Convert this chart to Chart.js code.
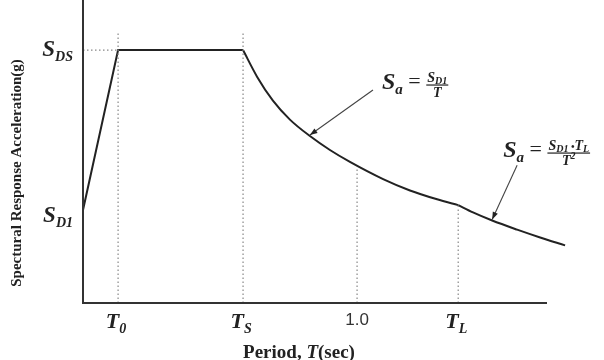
<!DOCTYPE html>
<html lang="en">
<head>
<meta charset="UTF-8">
<title>Design Response Spectrum</title>
<script src="https://cdn.jsdelivr.net/npm/chart.js"></script>
<style>
  html, body { margin: 0; padding: 0; background: #fff; }
  #wrap { width: 604px; height: 360px; }
</style>
</head>
<body>
<div id="wrap"><canvas id="spectrum" width="604" height="360"></canvas></div>
<script>
// values: period T (sec) and Sa as a fraction of S_DS
const rampT = [0, 0.128, 0.584];
const rampSa = [0.368, 1.0, 1.0];
const decayT = [0.584, 0.635, 0.693, 0.755, 0.828, 0.901, 0.974, 1.095, 1.193, 1.292, 1.369];
const decaySa = [1.0, 0.895, 0.800, 0.725, 0.660, 0.605, 0.558, 0.490, 0.445, 0.410, 0.387];
const longT = [1.369, 1.423, 1.493, 1.584, 1.668, 1.759];
const longSa = [0.387, 0.358, 0.326, 0.290, 0.259, 0.228];

// marked periods on the x axis, their labels and where the dotted guides stop
const tickT = [0.128, 0.584, 1.0, 1.369];
const tickLabels = [['T', '0'], ['T', 'S'], ['1.0', ''], ['T', 'L']];
const guideTop = [1.071, 1.067, 0.530, 0.387];

const sds = 1.0;
const sd1 = 0.368;
const xMax = 1.693;
const yMax = 1.198;

const toPoints = (xs, ys) => xs.map((t, i) => ({ x: t, y: ys[i] }));

const curve = { borderColor: '#222', borderWidth: 2, pointRadius: 0, clip: false, fill: false };
const dotted = { borderColor: '#888', borderWidth: 1.2, borderDash: [1.5, 2.5], pointRadius: 0, tension: 0, fill: false };

const guides = tickT.map((t, i) => ({
    ...dotted,
    data: [{ x: t, y: 0 }, { x: t, y: guideTop[i] }]
}));
guides.push({ ...dotted, data: [{ x: 0, y: sds }, { x: tickT[0], y: sds }] });

const SERIF = '"Liberation Serif", "DejaVu Serif", serif';

// letter with a subscript, returns the width drawn
function drawSub(ctx, main, sub, x, y, size, align) {
    ctx.font = 'bold italic ' + size + 'px ' + SERIF;
    const w1 = ctx.measureText(main).width;
    ctx.font = 'bold italic ' + Math.round(size * 0.62) + 'px ' + SERIF;
    const w2 = sub ? ctx.measureText(sub).width : 0;
    let left = x;
    if (align === 'center') left = x - (w1 + w2) / 2;
    if (align === 'right') left = x - (w1 + w2);
    ctx.textAlign = 'left';
    ctx.textBaseline = 'alphabetic';
    ctx.font = 'bold italic ' + size + 'px ' + SERIF;
    ctx.fillText(main, left, y);
    if (sub) {
        ctx.font = 'bold italic ' + Math.round(size * 0.62) + 'px ' + SERIF;
        ctx.fillText(sub, left + w1, y + size * 0.22);
    }
    return w1 + w2;
}

function drawFormula(ctx, x, y, num, den, fs) {
    let cx = x;
    cx += drawSub(ctx, 'S', 'a', cx, y, 24);
    ctx.font = '22px ' + SERIF;
    ctx.fillText(' = ', cx, y - 1);
    cx += ctx.measureText(' = ').width;
    const bar = y - 4;
    const measure = parts => parts.reduce((w, p) => {
        ctx.font = 'bold italic ' + p[2] + 'px ' + SERIF;
        return w + ctx.measureText(p[0]).width;
    }, 0);
    const wn = measure(num), wd = measure(den);
    const wf = Math.max(wn, wd) + 2;
    const put = (parts, startX, baseY) => {
        let px = startX;
        parts.forEach(p => {
            ctx.font = 'bold italic ' + p[2] + 'px ' + SERIF;
            ctx.fillText(p[0], px, baseY + p[1]);
            px += ctx.measureText(p[0]).width;
        });
    };
    put(num, cx + (wf - wn) / 2, bar - 3);
    put(den, cx + (wf - wd) / 2, bar + fs - 1);
    ctx.fillRect(cx, bar - 0.6, wf, 1.2);
}

function drawArrow(ctx, x0, y0, x1, y1) {
    const ang = Math.atan2(y1 - y0, x1 - x0);
    ctx.beginPath();
    ctx.moveTo(x0, y0);
    ctx.lineTo(x1, y1);
    ctx.stroke();
    ctx.beginPath();
    ctx.moveTo(x1, y1);
    ctx.lineTo(x1 - 8 * Math.cos(ang - 0.35), y1 - 8 * Math.sin(ang - 0.35));
    ctx.lineTo(x1 - 8 * Math.cos(ang + 0.35), y1 - 8 * Math.sin(ang + 0.35));
    ctx.closePath();
    ctx.fill();
}

const annotate = {
    id: 'annotate',
    afterDatasetsDraw(chart) {
        const { ctx, chartArea: a, scales: { x, y } } = chart;
        ctx.save();
        ctx.fillStyle = '#222';
        ctx.strokeStyle = '#333';

        // axes
        ctx.lineWidth = 2;
        ctx.beginPath();
        ctx.moveTo(a.left, a.top);
        ctx.lineTo(a.left, a.bottom);
        ctx.lineTo(a.right, a.bottom);
        ctx.stroke();

        // y labels
        drawSub(ctx, 'S', 'DS', a.left - 10, y.getPixelForValue(sds) + 6, 23, 'right');
        drawSub(ctx, 'S', 'D1', a.left - 10, y.getPixelForValue(sd1) + 12, 23, 'right');

        // x labels
        tickT.forEach((t, i) => {
            const px = x.getPixelForValue(t);
            const [main, sub] = tickLabels[i];
            if (sub) {
                drawSub(ctx, main, sub, px - 2, a.bottom + 25, 22, 'center');
            } else {
                ctx.font = '17px "Liberation Sans", Arial, sans-serif';
                ctx.fillStyle = '#333';
                ctx.textAlign = 'center';
                ctx.fillText(main, px, a.bottom + 22);
                ctx.fillStyle = '#222';
            }
        });

        // axis titles
        ctx.textBaseline = 'alphabetic';
        ctx.textAlign = 'left';
        const parts = [['Period, ', 'bold '], ['T', 'bold italic '], ['(sec)', 'bold ']];
        let total = 0;
        parts.forEach(p => { ctx.font = p[1] + '19px ' + SERIF; total += ctx.measureText(p[0]).width; });
        let tx = 299 - total / 2;
        parts.forEach(p => {
            ctx.font = p[1] + '19px ' + SERIF;
            ctx.fillText(p[0], tx, a.bottom + 55);
            tx += ctx.measureText(p[0]).width;
        });

        ctx.save();
        ctx.translate(21, 173);
        ctx.rotate(-Math.PI / 2);
        ctx.textAlign = 'center';
        ctx.font = 'bold 15px ' + SERIF;
        ctx.fillText('Spectural Response Acceleration(g)', 0, 0);
        ctx.restore();

        // arrows to the two descending branches
        ctx.lineWidth = 1.1;
        ctx.strokeStyle = '#444';
        ctx.fillStyle = '#222';
        drawArrow(ctx, x.getPixelForValue(1.058), y.getPixelForValue(0.842),
            x.getPixelForValue(0.828), y.getPixelForValue(0.664));
        drawArrow(ctx, x.getPixelForValue(1.584), y.getPixelForValue(0.545),
            x.getPixelForValue(1.493), y.getPixelForValue(0.330));

        // formulas
        drawFormula(ctx, x.getPixelForValue(1.091), y.getPixelForValue(0.846),
            [['S', 0, 14], ['D1', 2, 10]], [['T', 0, 14]], 13);
        drawFormula(ctx, x.getPixelForValue(1.533), y.getPixelForValue(0.577),
            [['S', 0, 14], ['D1', 2, 10], [' \u2022', 0, 10], ['T', 0, 14], ['L', 2, 10]],
            [['T', 0, 14], ['2', -6, 10]], 13);

        ctx.restore();
    }
};

new Chart(document.getElementById('spectrum'), {
    type: 'line',
    data: {
        datasets: [
            ...guides,
            { ...curve, data: toPoints(rampT, rampSa), tension: 0 },
            { ...curve, data: toPoints(decayT, decaySa), cubicInterpolationMode: 'monotone' },
            { ...curve, data: toPoints(longT, longSa), cubicInterpolationMode: 'monotone' }
        ]
    },
    options: {
        responsive: false,
        animation: false,
        devicePixelRatio: 1,
        layout: { padding: { left: 83, right: 57, top: 0, bottom: 57 } },
        plugins: { legend: { display: false }, tooltip: { enabled: false } },
        scales: {
            x: { type: 'linear', min: 0, max: xMax, display: false },
            y: { min: 0, max: yMax, display: false }
        }
    },
    plugins: [annotate]
});
</script>
</body>
</html>
